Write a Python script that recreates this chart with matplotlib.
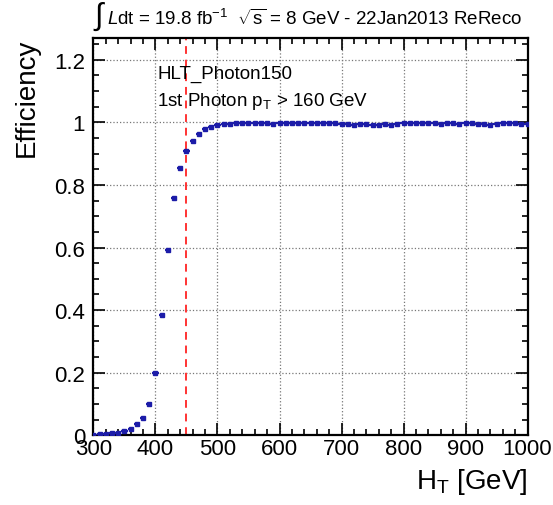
import numpy as np
import matplotlib
matplotlib.use("Agg")
import matplotlib.pyplot as plt
from matplotlib.ticker import MultipleLocator, FormatStrFormatter

plt.rcParams['font.family'] = ['Liberation Sans', 'DejaVu Sans']
plt.rcParams['mathtext.fontset'] = 'custom'
plt.rcParams['mathtext.rm'] = 'Liberation Sans'
plt.rcParams['mathtext.it'] = 'Liberation Sans:italic'

# HT bin centres (GeV) and trigger efficiency
ht = [300, 310, 320, 330, 340, 350, 360, 370, 380, 390,
      400, 410, 420, 430, 440, 450, 460, 470, 480, 490,
      500, 510, 520, 530, 540, 550, 560, 570, 580, 590,
      600, 610, 620, 630, 640, 650, 660, 670, 680, 690,
      700, 710, 720, 730, 740, 750, 760, 770, 780, 790,
      800, 810, 820, 830, 840, 850, 860, 870, 880, 890,
      900, 910, 920, 930, 940, 950, 960, 970, 980, 990, 1000]
eff = [0.002, 0.003, 0.004, 0.006, 0.008, 0.012, 0.020, 0.035, 0.056, 0.100,
       0.200, 0.384, 0.592, 0.757, 0.855, 0.907, 0.940, 0.962, 0.978, 0.986,
       0.991, 0.994, 0.995, 0.997, 0.997, 0.998, 0.997, 0.998, 0.997, 0.996,
       0.997, 0.998, 0.997, 0.998, 0.997, 0.998, 0.998, 0.997, 0.998, 0.997,
       0.996, 0.994, 0.993, 0.995, 0.996, 0.993, 0.991, 0.994, 0.992, 0.996,
       0.997, 0.999, 0.998, 0.997, 0.998, 0.997, 0.996, 0.998, 0.997, 0.996,
       0.997, 0.998, 0.996, 0.994, 0.991, 0.995, 0.997, 0.998, 0.997, 0.994, 0.995]
bin_half = 5
threshold = 450

fig = plt.figure(figsize=(5.53, 5.06), dpi=100)
ax = fig.add_axes([0.169, 0.138, 0.785, 0.785])

ax.errorbar(ht, eff, xerr=bin_half, fmt='s', color='#1c1ca8', ms=2.5,
            elinewidth=1.6, capsize=0, zorder=3)
ax.axvline(threshold, color='#ff3333', linestyle=(0, (4, 3)), lw=1.4, zorder=2)

ax.set_xlim(300, 1000)
ax.set_ylim(0, 1.27)
ax.xaxis.set_major_locator(MultipleLocator(100))
ax.xaxis.set_minor_locator(MultipleLocator(20))
ax.yaxis.set_major_locator(MultipleLocator(0.2))
ax.yaxis.set_minor_locator(MultipleLocator(0.05))
ax.yaxis.set_major_formatter(FormatStrFormatter('%g'))
ax.tick_params(which='both', direction='in', top=True, right=True, width=1.2)
ax.tick_params(which='major', length=8.5, labelsize=16)
ax.tick_params(axis='x', which='major', pad=2)
ax.tick_params(axis='y', which='major', pad=6)
ax.tick_params(which='minor', length=4)
for s in ax.spines.values():
    s.set_linewidth(1.6)
ax.grid(True, which='major', linestyle=':', color='#777777', lw=0.9)

ax.set_xlabel(r'H$_\mathrm{T}$ [GeV]', fontsize=20, loc='right', labelpad=5)
ax.set_ylabel('Efficiency', fontsize=20, loc='top', labelpad=10)

ax.text(0.147, 0.932, 'HLT_Photon150', transform=ax.transAxes, fontsize=13.5, va='top')
ax.text(0.147, 0.869, r'1st Photon p$_\mathrm{T}$ > 160 GeV', transform=ax.transAxes,
        fontsize=13.5, va='top')

fig.text(0.168, 0.966, r'$\int$', fontsize=22, va='center', family='DejaVu Sans')
fig.text(0.193, 0.962, r'$L$dt = 19.8 fb$^{-1}$  $\sqrt{\mathrm{s}}$ = 8 GeV - 22Jan2013 ReReco',
         fontsize=13.5, va='center')

fig.savefig('out.png', dpi=100)
